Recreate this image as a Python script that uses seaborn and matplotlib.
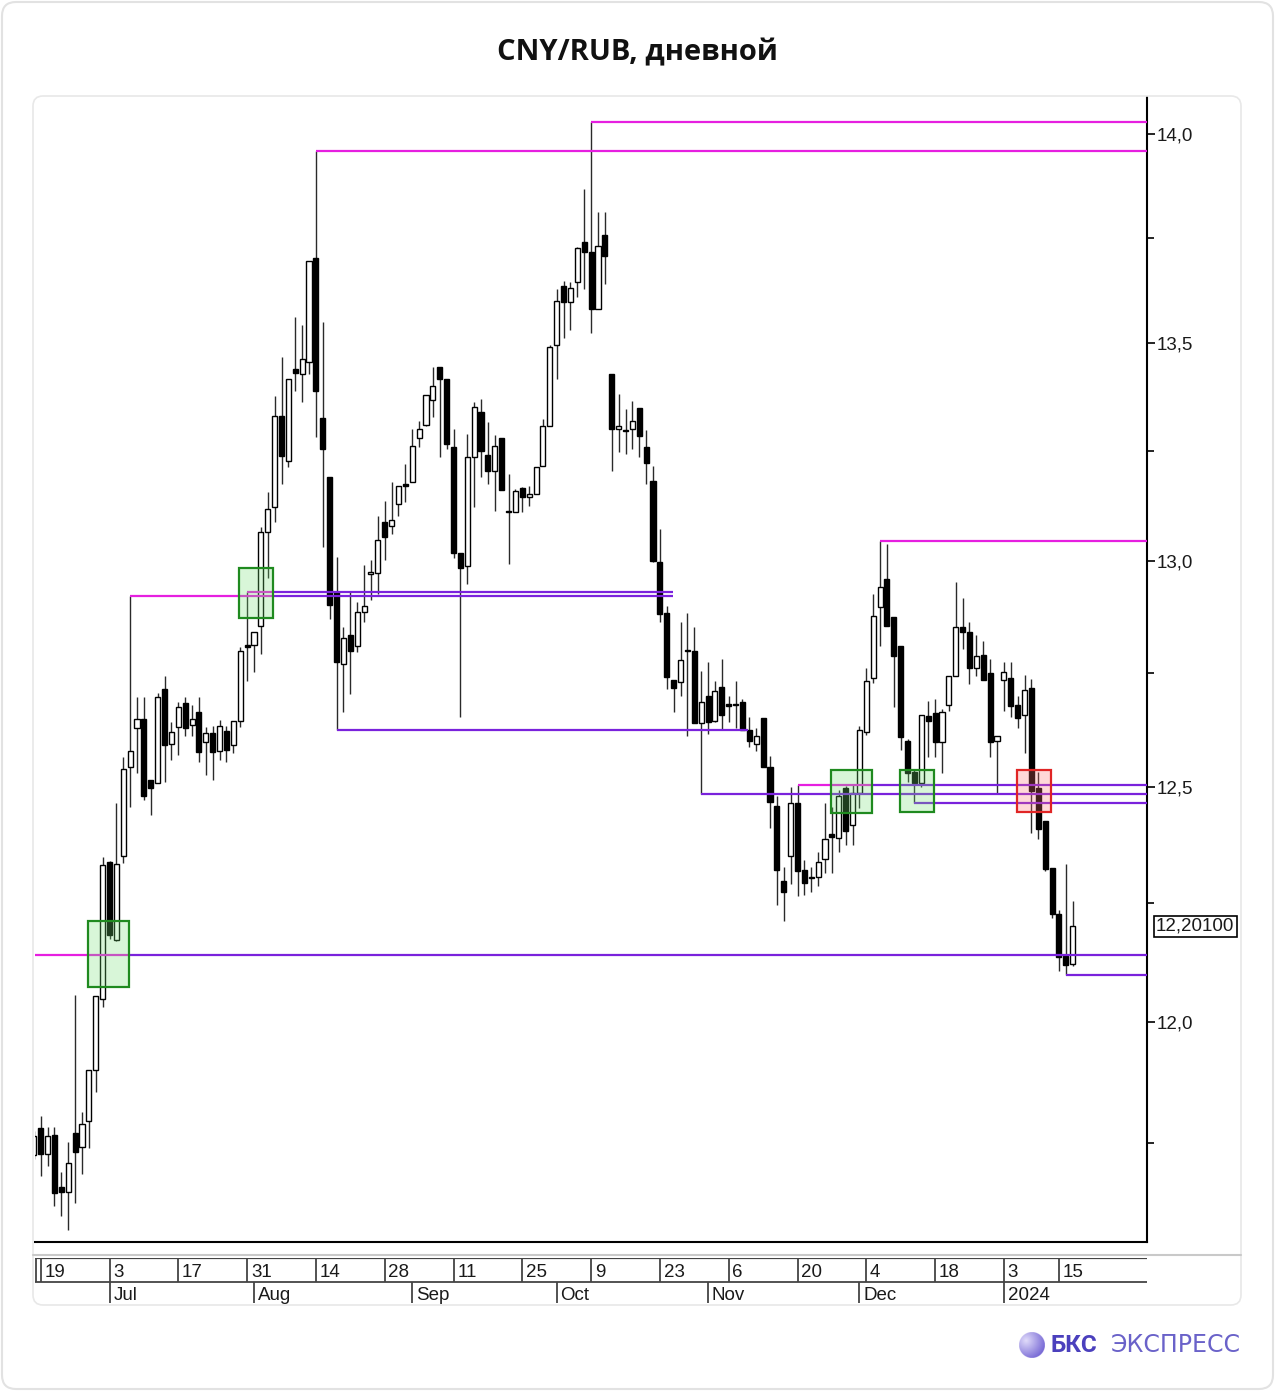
# CNY/RUB daily candles with support / resistance levels

import numpy as np
import pandas as pd
import seaborn as sns
import matplotlib.pyplot as plt
import matplotlib.transforms as mtransforms
from matplotlib.patches import FancyBboxPatch, Rectangle
from matplotlib.lines import Line2D
from matplotlib.ticker import FixedLocator, FuncFormatter, NullFormatter

sns.set_theme(style="white")
plt.rcParams['font.family'] = ['Liberation Sans', 'DejaVu Sans']

# trading days (exchange closed on Jan 1-2, 2024)
dates = pd.bdate_range("2023-06-16", "2024-01-17")
dates = dates[~dates.isin(pd.to_datetime(["2024-01-01", "2024-01-02"]))]

opens = [
    11.727, 11.782, 11.729, 11.767, 11.661, 11.651, 11.771, 11.743, 11.796, 11.900,
    12.049, 12.338, 12.172, 12.351, 12.544, 12.628, 12.648, 12.515, 12.508, 12.714,
    12.593, 12.630, 12.683, 12.635, 12.663, 12.597, 12.617, 12.579, 12.621, 12.590,
    12.643, 12.812, 12.812, 12.854, 13.066, 13.122, 13.331, 13.227, 13.441, 13.428,
    13.457, 13.702, 13.326, 13.191, 12.929, 12.770, 12.834, 12.809, 12.885, 12.971,
    12.973, 13.087, 13.078, 13.129, 13.175, 13.179, 13.280, 13.310, 13.368, 13.444,
    13.416, 13.260, 13.018, 12.989, 13.237, 13.340, 13.241, 13.204, 13.280, 13.112,
    13.110, 13.165, 13.145, 13.152, 13.216, 13.308, 13.497, 13.635, 13.597, 13.644,
    13.740, 13.716, 13.582, 13.757, 13.428, 13.301, 13.299, 13.301, 13.349, 13.260,
    13.181, 12.998, 12.882, 12.734, 12.730, 12.801, 12.798, 12.639, 12.699, 12.643,
    12.719, 12.681, 12.679, 12.685, 12.624, 12.593, 12.650, 12.544, 12.459, 12.298,
    12.351, 12.466, 12.321, 12.305, 12.306, 12.344, 12.398, 12.389, 12.497, 12.417,
    12.487, 12.619, 12.739, 12.896, 12.960, 12.874, 12.809, 12.599, 12.533, 12.508,
    12.655, 12.661, 12.597, 12.679, 12.743, 12.852, 12.840, 12.761, 12.790, 12.750,
    12.599, 12.734, 12.739, 12.679, 12.657, 12.716, 12.497, 12.425, 12.325, 12.227,
    12.138, 12.121,
]
highs = [
    11.776, 11.806, 11.784, 11.784, 11.692, 11.753, 12.057, 11.814, 11.900, 12.055,
    12.349, 12.340, 12.466, 12.564, 12.920, 12.697, 12.697, 12.515, 12.705, 12.743,
    12.641, 12.685, 12.697, 12.679, 12.697, 12.630, 12.632, 12.646, 12.632, 12.643,
    12.807, 12.929, 12.840, 13.076, 13.156, 13.377, 13.469, 13.418, 13.563, 13.544,
    13.695, 13.959, 13.551, 13.191, 13.009, 12.852, 12.929, 12.907, 12.991, 13.002,
    13.101, 13.135, 13.179, 13.170, 13.221, 13.301, 13.319, 13.379, 13.446, 13.444,
    13.416, 13.301, 13.018, 13.290, 13.363, 13.370, 13.317, 13.287, 13.280, 13.198,
    13.163, 13.168, 13.170, 13.214, 13.324, 13.497, 13.628, 13.647, 13.644, 13.728,
    13.866, 14.029, 13.811, 13.811, 13.428, 13.382, 13.347, 13.366, 13.349, 13.299,
    13.216, 13.073, 12.898, 12.734, 12.863, 12.882, 12.852, 12.754, 12.774, 12.732,
    12.781, 12.699, 12.732, 12.692, 12.652, 12.628, 12.650, 12.566, 12.480, 12.327,
    12.500, 12.504, 12.342, 12.327, 12.359, 12.466, 12.457, 12.493, 12.502, 12.504,
    12.632, 12.761, 12.925, 13.046, 13.037, 12.874, 12.809, 12.604, 12.539, 12.657,
    12.688, 12.692, 12.670, 12.743, 12.953, 12.916, 12.863, 12.834, 12.821, 12.781,
    12.610, 12.774, 12.774, 12.699, 12.745, 12.736, 12.533, 12.425, 12.325, 12.236,
    12.334, 12.255,
]
lows = [
    11.718, 11.684, 11.704, 11.622, 11.602, 11.575, 11.629, 11.688, 11.741, 11.855,
    12.032, 12.174, 12.170, 12.336, 12.457, 12.531, 12.472, 12.440, 12.508, 12.511,
    12.559, 12.570, 12.610, 12.610, 12.555, 12.526, 12.515, 12.559, 12.555, 12.573,
    12.630, 12.732, 12.752, 12.792, 12.962, 13.089, 13.175, 13.214, 13.388, 13.363,
    13.428, 13.283, 13.032, 12.869, 12.624, 12.663, 12.703, 12.796, 12.863, 12.913,
    12.925, 13.002, 13.060, 13.101, 13.133, 13.179, 13.260, 13.308, 13.329, 13.237,
    13.255, 13.007, 12.652, 12.947, 13.122, 13.191, 13.175, 13.112, 13.161, 12.993,
    13.110, 13.110, 13.124, 13.152, 13.216, 13.308, 13.416, 13.513, 13.532, 13.609,
    13.628, 13.525, 13.580, 13.640, 13.204, 13.248, 13.244, 13.255, 13.237, 13.175,
    12.998, 12.863, 12.714, 12.663, 12.699, 12.610, 12.639, 12.485, 12.615, 12.641,
    12.626, 12.641, 12.628, 12.624, 12.586, 12.579, 12.542, 12.412, 12.247, 12.213,
    12.291, 12.266, 12.268, 12.274, 12.287, 12.315, 12.315, 12.359, 12.374, 12.374,
    12.455, 12.612, 12.728, 12.809, 12.854, 12.674, 12.581, 12.511, 12.466, 12.500,
    12.564, 12.564, 12.531, 12.666, 12.743, 12.803, 12.725, 12.743, 12.734, 12.564,
    12.485, 12.666, 12.652, 12.628, 12.573, 12.400, 12.387, 12.319, 12.219, 12.106,
    12.098, 12.117,
]
closes = [
    11.765, 11.729, 11.765, 11.649, 11.651, 11.710, 11.733, 11.790, 11.900, 12.055,
    12.332, 12.183, 12.334, 12.539, 12.579, 12.648, 12.480, 12.497, 12.697, 12.590,
    12.619, 12.674, 12.628, 12.648, 12.575, 12.617, 12.575, 12.632, 12.581, 12.643,
    12.798, 12.807, 12.840, 13.066, 13.117, 13.331, 13.239, 13.418, 13.432, 13.464,
    13.695, 13.388, 13.255, 12.900, 12.774, 12.827, 12.798, 12.885, 12.898, 12.975,
    13.048, 13.055, 13.092, 13.170, 13.170, 13.262, 13.301, 13.379, 13.400, 13.416,
    13.267, 13.018, 12.984, 13.237, 13.352, 13.250, 13.204, 13.262, 13.161, 13.110,
    13.158, 13.145, 13.152, 13.214, 13.308, 13.492, 13.599, 13.597, 13.630, 13.726,
    13.716, 13.582, 13.730, 13.706, 13.301, 13.308, 13.296, 13.319, 13.285, 13.223,
    13.000, 12.880, 12.741, 12.716, 12.778, 12.798, 12.639, 12.685, 12.641, 12.710,
    12.657, 12.677, 12.681, 12.624, 12.599, 12.610, 12.544, 12.468, 12.321, 12.274,
    12.466, 12.319, 12.293, 12.304, 12.338, 12.387, 12.391, 12.480, 12.404, 12.487,
    12.624, 12.732, 12.876, 12.942, 12.854, 12.787, 12.608, 12.531, 12.508, 12.657,
    12.643, 12.597, 12.663, 12.743, 12.852, 12.840, 12.761, 12.787, 12.734, 12.597,
    12.610, 12.752, 12.677, 12.650, 12.712, 12.491, 12.408, 12.323, 12.227, 12.136,
    12.119, 12.201,
]

# x axis labels
day_ticks = ["2023-06-19", "2023-07-03", "2023-07-17", "2023-07-31", "2023-08-14",
             "2023-08-28", "2023-09-11", "2023-09-25", "2023-10-09", "2023-10-23",
             "2023-11-06", "2023-11-20", "2023-12-04", "2023-12-18", "2024-01-03",
             "2024-01-15"]
month_ticks = ["2023-07-03", "2023-08-01", "2023-09-01", "2023-10-02", "2023-11-01",
               "2023-12-01", "2024-01-03"]
month_labels = ["Jul", "Aug", "Sep", "Oct", "Nov", "Dec", "2024"]

# levels: (start date, price, date where colour turns purple or None, end date or None=right edge)
MAG = '#e61fe0'
PUR = '#7a22dc'
levels = [
    ("2023-07-06", 12.920, "2023-08-03", "2023-10-24"),
    ("2023-07-31", 12.929, "2023-08-03", "2023-10-24"),
    ("2023-08-14", 13.959, None, None),
    ("2023-10-09", 14.029, None, None),
    ("2023-08-17", 12.624, "2023-08-17", "2023-11-08"),
    ("2023-10-31", 12.485, "2023-10-31", None),
    ("2023-11-20", 12.504, "2023-12-04", None),
    ("2023-12-06", 13.046, None, None),
    ("2023-12-13", 12.466, "2023-12-13", None),
    ("2024-01-16", 12.098, "2024-01-16", None),
]
# rectangles marking level tests: (start date, end date, low, high, kind)
zones = [
    ("2023-06-28", "2023-07-05", 12.074, 12.213, "g"),
    ("2023-07-28", "2023-08-03", 12.871, 12.984, "g"),
    ("2023-11-27", "2023-12-04", 12.444, 12.537, "g"),
    ("2023-12-11", "2023-12-15", 12.446, 12.537, "g"),
    ("2024-01-05", "2024-01-11", 12.446, 12.537, "r"),
]

df = pd.DataFrame({'date': dates, 'open': opens, 'high': highs,
                   'low': lows, 'close': closes})
df['x'] = np.arange(len(df))


def pos(d):
    return dates.get_loc(pd.Timestamp(d))


W, H = 1275, 1391
fig = plt.figure(figsize=(W / 100, H / 100), dpi=100)
fig.patch.set_facecolor('white')

# card frames (pixel coordinates)
ident = mtransforms.IdentityTransform()
fig.add_artist(FancyBboxPatch((2, 2), W - 4, H - 4, boxstyle="round,pad=0,rounding_size=14",
                              transform=ident, fc='none', ec='#e2e2e2', lw=1.5))
fig.add_artist(FancyBboxPatch((33, H - 1305), 1208, 1209, boxstyle="round,pad=0,rounding_size=10",
                              transform=ident, fc='none', ec='#e8e8e8', lw=1.2))

ax = fig.add_axes([35 / W, 1 - 1242 / H, 1112 / W, 1145 / H])
ax.set_facecolor('none')
xmin, xmax = 0.17, 161.8

# candles
up = df[df.close >= df.open]
dn = df[df.close < df.open]
ax.vlines(df.x, df.low, df.high, color='#2a2a2a', lw=1.0, zorder=2)
ax.bar(up.x, up.close - up.open, bottom=up.open, width=0.74,
       color='white', edgecolor='black', linewidth=1.0, zorder=3)
ax.bar(dn.x, dn.open - dn.close, bottom=dn.close, width=0.74,
       color='black', edgecolor='black', linewidth=1.0, zorder=3)

# levels
for start, price, switch, end in levels:
    x0 = pos(start)
    x1 = xmax if end is None else pos(end) + 0.85
    xs = x1 if switch is None else pos(switch) + 0.8
    if switch is not None and pos(switch) <= x0:
        xs = x0
    if xs > x0:
        ax.hlines(price, x0, xs, color=MAG, lw=1.6, zorder=4)
    if xs < x1:
        ax.hlines(price, xs, x1, color=PUR, lw=1.6, zorder=4)
# long level from the left edge
ax.hlines(12.140, xmin, pos("2023-07-05") + 0.8, color=MAG, lw=1.6, zorder=4)
ax.hlines(12.140, pos("2023-07-05") + 0.8, xmax, color=PUR, lw=1.6, zorder=4)

for d0, d1, lo, hi, kind in zones:
    fc = (0.45, 0.88, 0.45, 0.28) if kind == "g" else (1.0, 0.45, 0.45, 0.28)
    ec = '#1f8a1f' if kind == "g" else '#e02525'
    x0, x1 = pos(d0) - 0.12, pos(d1) + 0.83
    ax.add_patch(Rectangle((x0, lo), x1 - x0, hi - lo, fc=fc, ec=ec, lw=1.6, zorder=5))

ax.set_xlim(xmin, xmax)
ax.set_yscale('log')
ax.set_ylim(11.5504, 14.090)
ax.yaxis.set_major_locator(FixedLocator([12.0, 12.5, 13.0, 13.5, 14.0]))
ax.yaxis.set_minor_locator(FixedLocator([11.75, 12.25, 12.75, 13.25, 13.75]))
ax.yaxis.set_major_formatter(FuncFormatter(lambda v, p: f"{v:.1f}".replace('.', ',')))
ax.yaxis.set_minor_formatter(NullFormatter())
ax.yaxis.tick_right()
ax.tick_params(axis='y', which='major', right=True, left=False, length=6, width=1.2,
               color='black', labelsize=13.5, labelcolor='#1a1a1a', pad=1, direction='out')
ax.tick_params(axis='y', which='minor', right=True, left=False, length=5, width=1.2,
               color='black', direction='out')
ax.set_xticks([])
for s in ['top', 'left']:
    ax.spines[s].set_visible(False)
for s in ['right', 'bottom']:
    ax.spines[s].set_color('black')
    ax.spines[s].set_linewidth(1.5)

last = df.close.iloc[-1]
ax.text(1 + 9 / 1112, last, f"{last:.5f}".replace('.', ','),
        transform=mtransforms.blended_transform_factory(ax.transAxes, ax.transData),
        ha='left', va='center', fontsize=13.5, color='#1a1a1a',
        bbox=dict(boxstyle='square,pad=0.12', fc='white', ec='black', lw=1.2))

# date scale below the chart
fig.add_artist(Line2D([33 / W, 1241 / W], [1 - 1255 / H] * 2, transform=fig.transFigure,
                      color='#c9c9c9', lw=1.5))
axd = fig.add_axes([35 / W, 1 - 1303 / H, 1112 / W, 45 / H])
axd.set_xlim(xmin, xmax)
axd.set_ylim(0, 1)
axd.axis('off')
split = 21 / 45
axd.axhline(1, color='#444444', lw=1.6)
axd.axhline(split, color='#444444', lw=1.3)
axd.vlines(xmin + 0.2, split, 1, color='#444444', lw=1.3)
for d in day_ticks:
    i = pos(d)
    axd.vlines(i, split, 1, color='#444444', lw=1.3)
    axd.text(i + 0.55, (split + 1) / 2 - 0.05, str(pd.Timestamp(d).day), ha='left',
             va='center', fontsize=13.5, color='#1a1a1a')
for d, lab in zip(month_ticks, month_labels):
    i = pos(d)
    axd.vlines(i, 0, split, color='#444444', lw=1.3)
    axd.text(i + 0.55, split / 2 - 0.06, lab, ha='left', va='center',
             fontsize=13.5, color='#1a1a1a')

fig.text(0.5, 1 - 53 / H, "CNY/RUB, дневной", ha='center', va='center',
         fontsize=21, fontweight='bold', color='#111111', family=['Open Sans', 'DejaVu Sans'])

# logo
axl = fig.add_axes([1019 / W, 1 - 1358 / H, 26 / W, 26 / H])
yy, xx = np.mgrid[-1:1:200j, -1:1:200j]
t = np.clip(np.hypot(xx + 0.45, yy + 0.35) / 1.7, 0, 1)[..., None]
light = np.array([0.88, 0.86, 0.98])
dark = np.array([0.42, 0.36, 0.82])
img = np.concatenate([light * (1 - t) + dark * t,
                      (np.hypot(xx, yy) <= 1).astype(float)[..., None]], axis=2)
axl.imshow(img, extent=(-1, 1, -1, 1))
axl.axis('off')
fig.text(1050 / W, 1 - 1345 / H, "БКС", ha='left', va='center', fontsize=17.5,
         fontweight='bold', color='#4b40bd', family=['Roboto', 'DejaVu Sans'])
fig.text(1241 / W, 1 - 1345 / H, "ЭКСПРЕСС", ha='right', va='center', fontsize=17,
         color='#6a62c9', family=['DejaVu Sans'])

fig.savefig("out.png", dpi=100)
